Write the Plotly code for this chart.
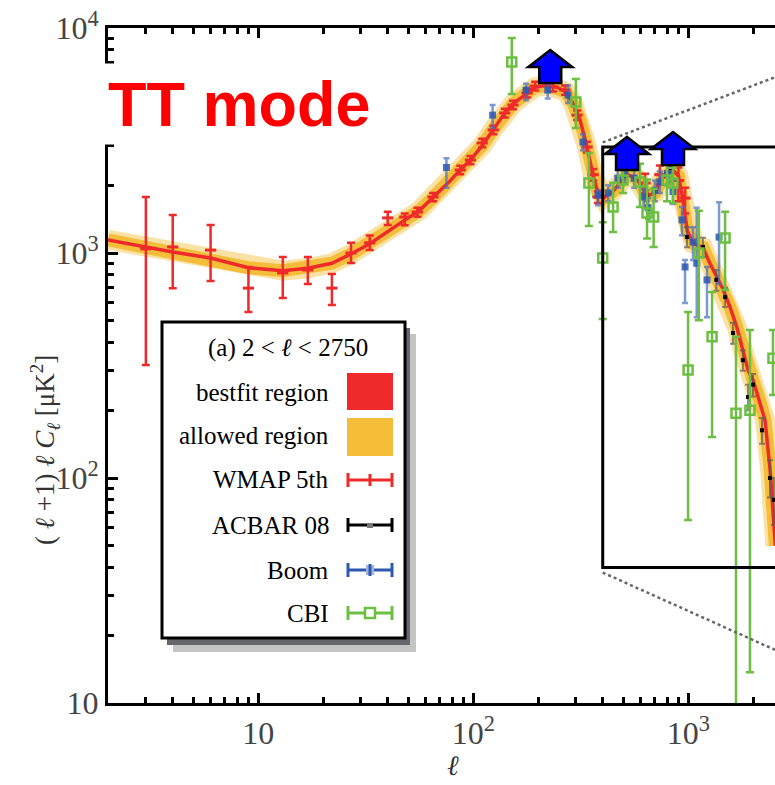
import math
import plotly.graph_objects as go

# ---------------- data ----------------
ell_fit = [2, 3, 4, 6, 9, 13, 17, 22, 27, 33, 40, 48, 56, 65, 76, 87, 97, 110, 124, 140,
           153, 178, 194, 220, 245, 270, 292, 314, 338, 361, 382, 405, 447, 519, 575, 643,
           700, 760, 849, 900, 945, 990, 1060, 1170, 1260, 1360, 1450, 1563, 1680, 1778,
           1900, 2000, 2150, 2275, 2400, 2540]
cl_fit = [1143, 1060, 1010, 950, 860, 835, 855, 900, 990, 1100, 1250, 1400, 1540, 1760, 2040,
          2340, 2590, 3000, 3550, 4190, 4600, 5140, 5450, 5560, 5450, 5200, 4600, 3900, 2960,
          2200, 1830, 1760, 1880, 2230, 2150, 1790, 1850, 2150, 2330, 2200, 1720, 1250, 1100,
          1060, 900, 780, 690, 576, 470, 382, 300, 273, 220, 181, 110, 50]

wmap_ell = [3, 4, 6, 9, 13, 17, 22, 27, 33, 40, 48, 55, 65, 87, 97, 110, 124, 140, 153, 178,
            194, 235, 267, 304, 338, 361, 380, 630, 738, 820, 900, 966]
wmap_cl = [1043, 1064, 1030, 698, 815, 840, 698, 1000, 1110, 1432, 1445, 1521, 1774, 2339, 2589,
           3083, 3523, 4190, 4550, 5140, 5520, 5470, 5300, 4100, 2958, 2230, 1774, 2046, 2230,
           2300, 2100, 1754]
wmap_hi = [1774, 1476, 1331, 867, 959, 959, 807, 1110, 1195, 1527, 1500, 1590, 1850, 2440, 2700,
           3220, 3680, 4380, 4750, 5370, 5770, 5720, 5550, 4300, 3120, 2360, 1880, 2250, 2450,
           2550, 2400, 1950]
wmap_lo = [318, 698, 751, 547, 631, 728, 587, 903, 1030, 1331, 1330, 1450, 1700, 2240, 2480,
           2950, 3370, 4000, 4350, 4910, 5270, 5220, 5050, 3900, 2800, 2100, 1670, 1850, 2010,
           2050, 1700, 1500]

boom_ell = [75, 123, 176, 222, 276, 324, 380, 424, 470, 508, 560, 620, 650, 700, 738, 800, 849,
            935, 966, 1052, 1095, 1222, 1390]
boom_cl = [2400, 4100, 5300, 5300, 5030, 3110, 1810, 1850, 2150, 2230, 2150, 1774, 1590, 1900,
           2070, 2250, 1875, 1403, 867, 1119, 900, 759, 1177]
boom_hi = [2640, 4550, 5650, 5650, 5550, 3370, 1905, 2000, 2350, 2450, 2350, 1950, 1750, 2100,
           2300, 2500, 2100, 1600, 930, 1300, 1590, 867, 1680]
boom_lo = [1950, 3600, 4770, 4860, 4640, 2860, 1630, 1700, 1950, 2050, 1950, 1600, 1420, 1700,
           1850, 2000, 1650, 1200, 600, 930, 518, 518, 730]

acbar_ell = [640, 830, 986, 1170, 1350, 1483, 1614, 1795, 1897, 2000, 2203, 2400, 2500]
acbar_cl = [1800, 2390, 1177, 1064, 760, 637, 441, 334, 229, 260, 163, 100, 80]
acbar_hi = [1900, 2500, 1300, 1170, 840, 700, 490, 370, 260, 290, 185, 120, 100]
acbar_lo = [1700, 2280, 1060, 960, 680, 575, 395, 300, 200, 230, 142, 82, 62]

cbi_ell = [151, 300, 345, 400, 447, 497, 596, 643, 690, 796, 849, 998, 1120, 1290, 1483, 1667,
           1936, 2477]
cbi_cl = [7063, 4690, 2046, 950, 1600, 2110, 2070, 1507, 1445, 2110, 2046, 302, 1000, 424, 1166,
          194, 200, 341]
cbi_hi = [9030, 5930, 2782, 1370, 2050, 2512, 2490, 2120, 1930, 2590, 2390, 547, 1540, 671, 1527,
          424, 455, 455]
cbi_lo = [5090, 3590, 1318, 509, 1240, 1848, 1600, 1160, 1064, 1700, 1670, 65, 503, 152, 685,
          3, 13.7, 234]

# peak markers (arrow tips)
arrow_ell = [228, 519, 849]
arrow_cl = [7980, 3280, 3450]

# zoom box of the inset
box_ell = [400, 3000]
box_cl = [40, 2960]
conn_ell = [400, 2540]
conn_top = [3100, 6050]
conn_bot = [38, 17.2]

xtick_vals = [10, 100, 1000]
xtick_text = ["10", "10<sup>2</sup>", "10<sup>3</sup>"]
ytick_vals = [10, 100, 1000, 10000]
ytick_text = ["10", "10<sup>2</sup>", "10<sup>3</sup>", "10<sup>4</sup>"]

# ---------------- colours ----------------
RED = "#EE2A2A"
ORANGE = "#F5BE3A"
GREEN = "#6CBF42"
BLUE = "#2C58B0"

W, H = 775, 785
PL, PT, PW, PH = 108, 28, 667, 675


def fx(px):
    return (px - PL) / PW


def fy(py):
    return (PT + PH - py) / PH


def errs(v, hi, lo):
    return [h - a for a, h in zip(v, hi)], [a - l for a, l in zip(v, lo)]


fig = go.Figure()

# allowed region (wide soft orange) and bestfit region (red)
fig.add_trace(go.Scatter(x=ell_fit, y=cl_fit, mode="lines",
                         line=dict(color="rgba(245,190,58,0.45)", width=20), hoverinfo="skip"))
fig.add_trace(go.Scatter(x=ell_fit, y=cl_fit, mode="lines",
                         line=dict(color=ORANGE, width=13), hoverinfo="skip"))
fig.add_trace(go.Scatter(x=ell_fit, y=cl_fit, mode="lines",
                         line=dict(color=RED, width=3.5), hoverinfo="skip"))

p, m = errs(wmap_cl, wmap_hi, wmap_lo)
fig.add_trace(go.Scatter(x=wmap_ell, y=wmap_cl, mode="markers",
                         marker=dict(symbol="line-ew", size=8, line=dict(color=RED, width=3)),
                         error_y=dict(type="data", array=p, arrayminus=m, color=RED,
                                      thickness=2.5, width=4)))

p, m = errs(acbar_cl, acbar_hi, acbar_lo)
fig.add_trace(go.Scatter(x=acbar_ell, y=acbar_cl, mode="markers",
                         marker=dict(symbol="square", size=4, color="black"),
                         error_y=dict(type="data", array=p, arrayminus=m,
                                      color="rgba(90,90,90,0.7)", thickness=2, width=3)))

p, m = errs(boom_cl, boom_hi, boom_lo)
fig.add_trace(go.Scatter(x=boom_ell, y=boom_cl, mode="markers",
                         marker=dict(symbol="square", size=7, color=BLUE, opacity=0.85),
                         error_y=dict(type="data", array=p, arrayminus=m,
                                      color="rgba(70,110,190,0.7)", thickness=2.5, width=3)))

p, m = errs(cbi_cl, cbi_hi, cbi_lo)
fig.add_trace(go.Scatter(x=cbi_ell, y=cbi_cl, mode="markers",
                         marker=dict(symbol="square-open", size=9, color=GREEN,
                                     line=dict(color=GREEN, width=2.5)),
                         error_y=dict(type="data", array=p, arrayminus=m, color=GREEN,
                                      thickness=2.5, width=4)))

shapes = []
# inset box + connectors
shapes.append(dict(type="rect", xref="x", yref="y", x0=box_ell[0], x1=box_ell[1],
                   y0=box_cl[0], y1=box_cl[1], line=dict(color="black", width=3)))
shapes.append(dict(type="line", xref="x", yref="y", x0=conn_ell[0], x1=conn_ell[1],
                   y0=conn_top[0], y1=conn_top[1], line=dict(color="#666", width=2.5, dash="dot")))
shapes.append(dict(type="line", xref="x", yref="y", x0=conn_ell[0], x1=conn_ell[1],
                   y0=conn_bot[0], y1=conn_bot[1], line=dict(color="#666", width=2.5, dash="dot")))

# blue peak arrows
arrow_path = "M 0 0 L 22 -17 L 11 -17 L 11 -33 L -11 -33 L -11 -17 L -22 -17 Z"
for a_l, a_c in zip(arrow_ell, arrow_cl):
    shapes.append(dict(type="path", xref="x", yref="y", xsizemode="pixel", ysizemode="pixel",
                       xanchor=a_l, yanchor=a_c, path=arrow_path, fillcolor="#0000FF",
                       line=dict(color="black", width=2.5), layer="above"))


# legend box with shadow
def prect(x0, y0, x1, y1, **kw):
    d = dict(type="rect", xref="paper", yref="paper", x0=fx(x0), x1=fx(x1), y0=fy(y1), y1=fy(y0),
             layer="above")
    d.update(kw)
    return d


def pline(x0, y0, x1, y1, color, width):
    return dict(type="line", xref="paper", yref="paper", x0=fx(x0), x1=fx(x1), y0=fy(y0),
                y1=fy(y1), line=dict(color=color, width=width), layer="above")


shapes.append(prect(173, 334, 416, 652, fillcolor="#C4C4C4", line=dict(width=0)))
shapes.append(prect(167, 328, 410, 645, fillcolor="#66676B", line=dict(width=0)))
shapes.append(prect(162, 322, 405, 638, fillcolor="white", line=dict(color="black", width=3)))
shapes.append(prect(347, 373, 393, 410, fillcolor=RED, line=dict(width=0)))
shapes.append(prect(347, 418, 393, 456, fillcolor=ORANGE, line=dict(width=0)))

for yy, col in [(480, RED), (525, "black"), (570, BLUE), (613, GREEN)]:
    shapes.append(pline(347, yy, 393, yy, col, 3))
    shapes.append(pline(348, yy - 7, 348, yy + 7, col, 3))
    shapes.append(pline(392, yy - 7, 392, yy + 7, col, 3))
shapes.append(pline(370, 474, 370, 486, RED, 3))
shapes.append(prect(367, 523, 373, 528, fillcolor="#777", line=dict(width=0)))
shapes.append(prect(366, 565, 374, 575, fillcolor="#9FB3DD", line=dict(width=0)))
shapes.append(pline(370, 564, 370, 576, BLUE, 3))
shapes.append(prect(365, 608, 375, 618, fillcolor="white", line=dict(color=GREEN, width=2.5)))

annotations = []
SERIF = "Liberation Serif"
annotations.append(dict(xref="paper", yref="paper", x=fx(288), y=fy(348),
                        text="(a) 2 &lt; <i>ℓ</i> &lt; 2750",
                        showarrow=False, font=dict(family=SERIF, size=25, color="black"),
                        xanchor="center", yanchor="middle"))
for txt, yy in [("bestfit region", 392), ("allowed region", 435), ("WMAP 5th", 480),
                ("ACBAR 08", 525), ("Boom", 570), ("CBI", 613)]:
    annotations.append(dict(xref="paper", yref="paper", x=fx(331), y=fy(yy), text=txt,
                            showarrow=False, font=dict(family=SERIF, size=25, color="black"),
                            xanchor="right", yanchor="middle"))

annotations.append(dict(xref="paper", yref="paper", x=fx(102), y=fy(104), text="<b>TT mode</b>",
                        showarrow=False,
                        font=dict(family="Liberation Sans", size=63, color="#FF0000"),
                        xanchor="left", yanchor="middle", bgcolor="white", borderpad=5))

# axis titles
annotations.append(dict(xref="paper", yref="paper", x=fx(45), y=fy(450), textangle=-90,
                        text="( <i>ℓ</i> +1) <i>ℓ</i> <i>C</i><sub><i>ℓ</i></sub> [μK<sup>2</sup>]",
                        showarrow=False, font=dict(family=SERIF, size=27, color="#333"),
                        xanchor="center", yanchor="middle"))
annotations.append(dict(xref="paper", yref="paper", x=fx(453), y=fy(765), text="<i>ℓ</i>",
                        showarrow=False, font=dict(family=SERIF, size=28, color="#333"),
                        xanchor="center", yanchor="middle"))

minor_vals = [k * 10 ** e for e in range(0, 4) for k in range(2, 10)]

fig.update_layout(
    width=W, height=H, margin=dict(l=PL, r=0, t=PT, b=H - PT - PH),
    paper_bgcolor="white", plot_bgcolor="white", showlegend=False,
    shapes=shapes, annotations=annotations,
    xaxis=dict(type="log", range=[math.log10(2), math.log10(2) + PW / 215.0],
               showgrid=False, zeroline=False, showline=True, linecolor="black", linewidth=3,
               mirror="ticks", ticks="inside", ticklen=10, tickwidth=2.5, tickcolor="black",
               tickvals=xtick_vals, ticktext=xtick_text,
               minor=dict(ticks="inside", ticklen=6, tickwidth=2.5, tickcolor="black",
                          tickvals=minor_vals, showgrid=False),
               tickfont=dict(family=SERIF, size=32, color="#444")),
    yaxis=dict(type="log", range=[1, 4],
               showgrid=False, zeroline=False, showline=True, linecolor="black", linewidth=3,
               mirror=False, ticks="inside", ticklen=10, tickwidth=2.5, tickcolor="black",
               tickvals=ytick_vals, ticktext=ytick_text,
               minor=dict(ticks="inside", ticklen=6, tickwidth=2.5, tickcolor="black",
                          tickvals=minor_vals, showgrid=False),
               tickfont=dict(family=SERIF, size=32, color="#444")),
)

fig.write_html("out.html")
